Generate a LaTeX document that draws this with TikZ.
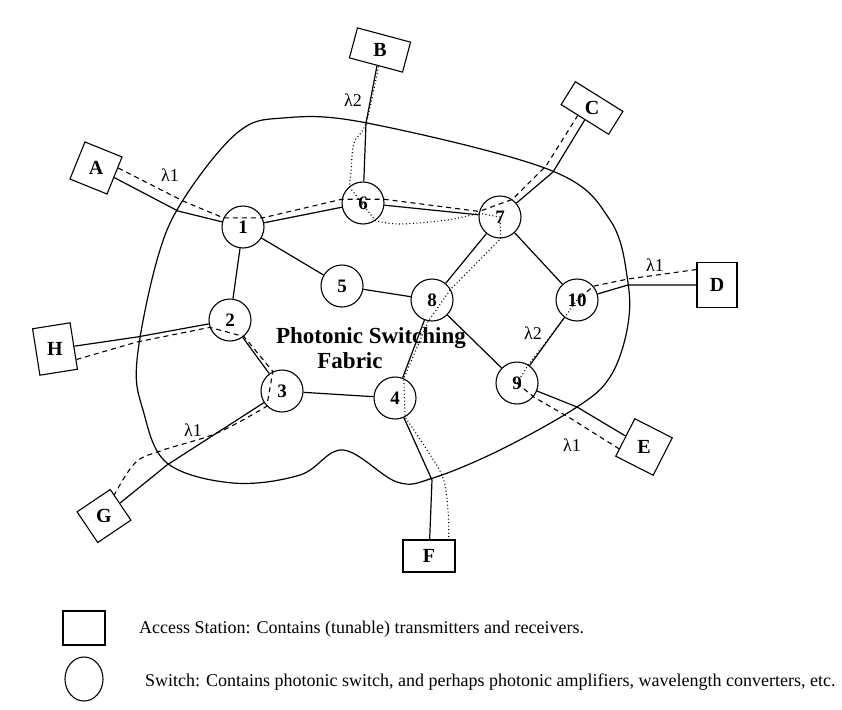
\documentclass[tikz,border=0pt]{standalone}
\usepackage{fontspec}
\setmainfont{Liberation Serif}
\usepackage{tikz}
\usetikzlibrary{shapes.geometric,calc}
\tikzset{
  stn/.style={rectangle,draw,line width=1.1pt,inner sep=0pt,
    font=\fontsize{20}{22}\selectfont\bfseries},
  sw/.style={circle,draw,line width=1.1pt,minimum size=42pt,inner sep=0pt,
    font=\fontsize{19}{21}\selectfont\bfseries},
  fib/.style={line width=1.2pt},
  lpa/.style={line width=1.1pt,dash pattern=on 5pt off 4pt},
  lpb/.style={line width=1.1pt,dash pattern=on 1pt off 2.5pt},
  wl/.style={font=\fontsize{18}{20}\selectfont,inner sep=1pt},
  fab/.style={line width=1.2pt},
  ttl/.style={font=\fontsize{23}{25}\selectfont\bfseries,inner sep=0pt},
  leg/.style={anchor=west,font=\fontsize{18}{20}\selectfont,inner sep=0pt},
}

\begin{document}
\begin{tikzpicture}[x=1pt,y=-1pt]
  \useasboundingbox (0,0) rectangle (842,709);
  % switches
  \node[sw] (n1) at (243,227) {1};
  \node[sw] (n2) at (230,320) {2};
  \node[sw] (n3) at (282,391) {3};
  \node[sw] (n4) at (395,398) {4};
  \node[sw] (n5) at (342,286) {5};
  \node[sw] (n6) at (363,203) {6};
  \node[sw] (n7) at (500,217) {7};
  \node[sw] (n8) at (432,300) {8};
  \node[sw] (n9) at (517,383) {9};
  \node[sw] (n10) at (577,300) {10};
  % access stations
  \node[stn,minimum width=40pt,minimum height=40pt,rotate=-22] (A) at (96,168) {\rotatebox{22}{A}};
  \node[stn,minimum width=55pt,minimum height=31pt,rotate=-15] (B) at (380,50) {\rotatebox{15}{B}};
  \node[stn,minimum width=56pt,minimum height=27pt,rotate=-32] (C) at (592,108) {\rotatebox{32}{C}};
  \node[stn,minimum width=40pt,minimum height=45pt] (D) at (717,285) {D};
  \node[stn,minimum width=42pt,minimum height=42pt,rotate=-27] (E) at (644,447) {\rotatebox{27}{E}};
  \node[stn,minimum width=52pt,minimum height=32pt] (F) at (429,556) {F};
  \node[stn,minimum width=40pt,minimum height=37pt,rotate=34] (G) at (104,516) {\rotatebox{-34}{G}};
  \node[stn,minimum width=38pt,minimum height=47pt,rotate=9] (H) at (55,349) {\rotatebox{-9}{H}};
  % fabric boundary
  \draw[fab] plot[smooth cycle,tension=0.6] coordinates {(283,118) (367,123) (550,170)
    (610,220) (628,283) (627,330) (610,377) (577,407) (500,450) (433,478) (397,482)
    (343,450) (300,475) (233,483) (167,463) (143,410) (137,360) (157,260) (183,200) (237,133)};
  \node[ttl] (pt) at (371,338) {Photonic Switching};
  \node[ttl] (fb) at (350,361) {Fabric};
  % crossing points
  \coordinate (xA) at (178,211); \coordinate (xB) at (366,123);
  \coordinate (xC) at (553,172); \coordinate (xD) at (628,285);
  \coordinate (xE) at (577,407); \coordinate (xF) at (432,480);
  \coordinate (xG) at (167,465); \coordinate (xH) at (137,337);
  \coordinate (yA) at (183,201); \coordinate (yC) at (546,166);
  \coordinate (yD) at (628,279); \coordinate (yE) at (570,418);
  \coordinate (yH) at (137,342);
  % fibres
  \foreach \p/\q in {n1/n6,n6/n7,n1/n5,n1/n2,n2/n3,n3/n4,n5/n8,n7/n8,n7/n10,n8/n4,n8/n9,n10/n9}
    \draw[fib] (\p) -- (\q);
  \foreach \s/\x/\n in {A/xA/n1,B/xB/n6,C/xC/n7,D/xD/n10,E/xE/n9,F/xF/n4,G/xG/n3,H/xH/n2}
    \draw[fib] (\s) -- (\x) -- (\n);
  % lightpaths
  \draw[lpa] (A.22) -- (yA) -- (n1.155) -- (n1.25) -- (n6.170) -- (n6.10) -- (n7.165)
    -- (n7.55) -- (yC) -- (C.240);
  \draw[lpa] (H.-35) -- (yH) -- (n2.200) -- (n2.310) -- (n3.115) -- (n3.225)
    -- plot[smooth,tension=0.6] coordinates {(n3.225) (217,433) (160,451) (135,463) (G.30)};
  \draw[lpb] plot[smooth,tension=0.6] coordinates {(B.280) (xB) (354,143) (351,172) (n6.130)}
    -- (n6.305) -- plot[smooth,tension=0.6] coordinates {(n6.305) (400,224) (447,220) (n7.170)}
    -- (n7.center) -- (n7.272) -- (n8.30) -- (n8.260) -- (n4.66) -- (n4.298)
    -- plot[smooth,tension=0.6] coordinates {(n4.298) (427,450) (443,478) (448,510) (F.40)};
  \draw[lpa] (D.143) -- (yD) -- (n10.40) -- (n10.center);
  \draw[lpb] (n10.center) -- (n10.235) -- (n9.58) -- (n9.center);
  \draw[lpa] (n9.center) -- (n9.-40) -- (yE) -- (E.211);
  % wavelength labels
  \node[wl] (la) at (170,175) {λ1};
  \node[wl] (lb) at (353,100) {λ2};
  \node[wl] (ld) at (655,265) {λ1};
  \node[wl] (lj) at (533,333) {λ2};
  \node[wl] (le) at (572,445) {λ1};
  \node[wl] (lg) at (193,430) {λ1};
  % legend
  \node[stn,minimum width=42pt,minimum height=34pt] (ks) at (84,628) {};
  \node[ellipse,draw,line width=1.1pt,minimum width=38pt,minimum height=44pt] (kw) at (84,679) {};
  \node[leg] (kst) at (139,629) {Access Station: Contains (tunable) transmitters and receivers.};
  \node[leg] (kwt) at (145,682) {Switch: Contains photonic switch, and perhaps photonic amplifiers, wavelength converters, etc.};
\end{tikzpicture}
\end{document}
